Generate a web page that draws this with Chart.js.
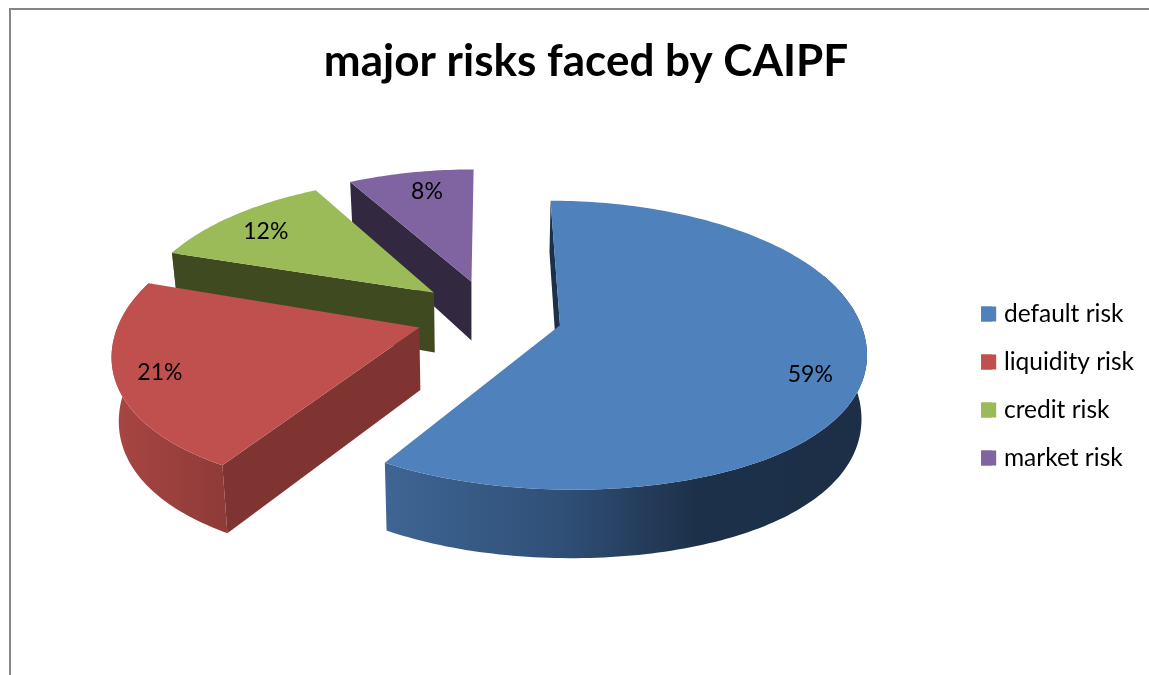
<!DOCTYPE html>
<html><head><meta charset="utf-8">
<style>
html,body{margin:0;padding:0;background:#fff;width:1149px;height:675px;overflow:hidden}
#frame{position:absolute;left:9px;top:8px;width:1160px;height:700px;border:2px solid #868686;box-sizing:border-box}
#wrap{position:absolute;left:28px;top:0;width:1116px;height:772px}
</style></head><body>
<div id="frame"></div>
<div id="wrap"><canvas id="c"></canvas></div>
<script src="https://cdn.jsdelivr.net/npm/chart.js@4"></script>
<script>
const categories = ['default risk','liquidity risk','credit risk','market risk'];
const values = [59,21,12,8];
const percentLabels = ['59%','21%','12%','8%'];
const title = 'major risks faced by CAIPF';
const colors = ['#4F81BD','#C0504D','#9BBB59','#8064A2'];
const faceColors = ['#1C3048','#803432','#3F4A21','#32283F'];
const wallStops = [
  [[0,'#3F6594'],[0.37,'#2F4F76'],[0.65,'#1D3049'],[1,'#1C2F47']],
  [[0,'#A84643'],[1,'#8F3B38']],
  [[0,'#4F5C29'],[1,'#3F4A21']],
  [[0,'#32283F'],[1,'#32283F']]
];
const labelRadial = [0.84,0.86,0.80,0.80];
const labelTurn = [6,0,-2,1.5];

const view = {cx:489,cy:315,rx:298,ry:148,depth:62,ax:0.156,bx:0.026,vx:472,convL:0.02,convR:0.014};
function project(u,v,h){
  const s = v<0 ? 1+0.24*v+0.06*v*v : 1+0.13*v-0.03*v*v;
  let x = view.cx+view.rx*u*(1+view.ax*v+view.bx*v*v);
  const y = view.cy+view.ry*v*s+h*view.depth*s;
  if(h) x += (view.vx-x)*(x<view.vx?view.convL:view.convR);
  return [x,y];
}
function poly(ctx,pts,fill){
  ctx.beginPath();
  pts.forEach((p,i)=> i?ctx.lineTo(p[0],p[1]):ctx.moveTo(p[0],p[1]));
  ctx.closePath();
  ctx.fillStyle=fill;
  ctx.fill();
}
const pie3d = {
  id:'pie3d',
  beforeDatasetDraw(chart,args){
    const ctx=chart.ctx, arcs=chart.getDatasetMeta(args.index).data;
    const off=chart.canvas.getBoundingClientRect().left;
    ctx.save();
    ctx.translate(-off,0); // view coordinates are page pixels
    const order=[3,2,1,0];
    order.forEach(i=>{
      const a=arcs[i], R=a.outerRadius;
      const mid=(a.startAngle+a.endAngle)/2;
      const e=(a.options.offset/2)/R;
      const au=Math.cos(mid)*e, av=Math.sin(mid)*e;
      const pts=[], front=[];
      const n=Math.ceil((a.endAngle-a.startAngle)/0.02);
      for(let k=0;k<=n;k++){
        const t=a.startAngle+(a.endAngle-a.startAngle)*k/n;
        const p=[au+Math.cos(t),av+Math.sin(t)];
        pts.push(p);
        if(Math.sin(t)>-0.35) front.push(p);
      }
      const top=pts.map(p=>project(p[0],p[1],0));
      const xs=top.map(p=>p[0]);
      const g=ctx.createLinearGradient(Math.min(...xs),0,Math.max(...xs),0);
      wallStops[i].forEach(s=>g.addColorStop(s[0],s[1]));
      if(front.length>1){
        const wt=front.map(p=>project(p[0],p[1],0));
        const wb=front.map(p=>project(p[0],p[1],1));
        poly(ctx,wt.concat(wb.reverse()),g);
      }
      poly(ctx,[project(au,av,0),top[0],project(pts[0][0],pts[0][1],1),project(au,av,1)],faceColors[i]);
      poly(ctx,[project(au,av,0)].concat(top),colors[i]);
    });
    ctx.fillStyle='#000';
    ctx.font='23px Lato';
    ctx.textAlign='center';
    ctx.textBaseline='middle';
    arcs.forEach((a,i)=>{
      const mid=(a.startAngle+a.endAngle)/2;
      const e=(a.options.offset/2)/a.outerRadius;
      const t=mid+labelTurn[i]*Math.PI/180, r=labelRadial[i];
      const p=project(Math.cos(mid)*e+Math.cos(t)*r,Math.sin(mid)*e+Math.sin(t)*r,0);
      ctx.fillText(percentLabels[i],p[0],p[1]);
    });
    ctx.restore();
    return false;
  },
  afterDraw(chart){
    const lg=chart.legend, ctx=chart.ctx;
    lg.legendHitBoxes.forEach((b,i)=>{
      ctx.fillStyle=colors[i];
      ctx.fillRect(b.left,b.top+(b.height-15)/2,15,15);
    });
  }
};
new Chart(document.getElementById('c'),{
  type:'pie',
  data:{labels:categories,datasets:[{data:values,backgroundColor:colors,borderWidth:0,offset:133.4}]},
  plugins:[pie3d],
  options:{
    responsive:true,maintainAspectRatio:false,animation:false,rotation:0,
    layout:{padding:0},
    plugins:{
      tooltip:{enabled:false},
      title:{display:true,text:title,color:'#000',font:{family:'Lato',size:44,weight:'700'},padding:{top:35,bottom:7}},
      legend:{position:'right',labels:{boxWidth:10.5,boxHeight:15,padding:23.5,color:'#000',font:{family:'Lato',size:24.5}}}
    }
  }
});
</script>
</body></html>
